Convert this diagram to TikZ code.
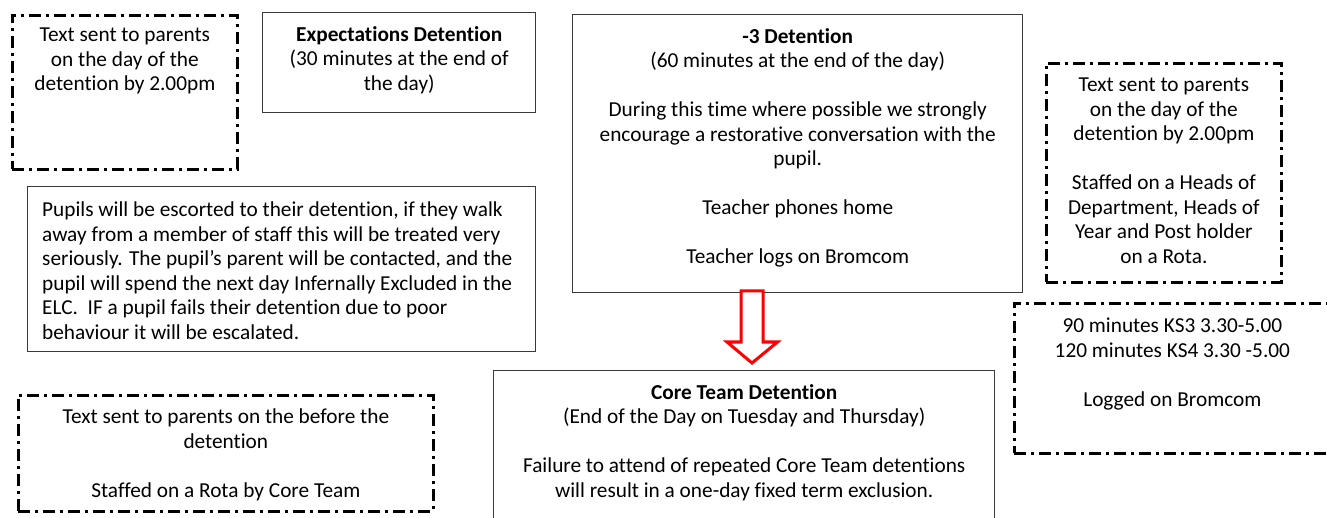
\documentclass[tikz,border=0pt]{standalone}
\usepackage{fontspec}
\setmainfont{Carlito}[Ligatures=NoCommon]
\definecolor{boxgray}{HTML}{3A3A3A}
\definecolor{arrowred}{HTML}{FF0000}
\begin{document}
\begin{tikzpicture}[x=1pt,y=-1pt,
  solidbox/.style={draw=boxgray,line width=1.4pt,anchor=north west,inner sep=0pt},
  dashbox/.style={draw=black,line width=2.7pt,dash pattern=on 12pt off 5pt on 3pt off 5pt,anchor=north west,inner sep=0pt},
  txt/.style={anchor=north,align=center,inner sep=0pt,font=\fontsize{21.3}{24.5}\selectfont},
  ltxt/.style={anchor=north west,align=left,inner sep=0pt,font=\fontsize{21.3}{24.5}\selectfont},
  hollowarrow/.style={draw=arrowred,line width=3pt,fill=white,line join=miter}
]
\useasboundingbox (0,0) rectangle (1327,518);
\clip (0,0) rectangle (1327,518);

% frames
\node[dashbox,minimum width=225pt,minimum height=154pt] (smsA) at (11,14) {};
\node[solidbox,minimum width=273pt,minimum height=100pt] (expect) at (262,12) {};
\node[solidbox,minimum width=450pt,minimum height=278pt] (minus3) at (572,14) {};
\node[dashbox,minimum width=235pt,minimum height=219pt] (smsD) at (1045,62) {};
\node[solidbox,minimum width=508pt,minimum height=165pt] (escort) at (27,186) {};
\node[dashbox,minimum width=316pt,minimum height=150pt] (kstimes) at (1013,302) {};
\node[dashbox,minimum width=415pt,minimum height=116pt] (smsG) at (17,394) {};
\node[solidbox,minimum width=501pt,minimum height=170pt] (core) at (493,370) {};

% texts
\node[txt] (smsAt) at ([yshift=-14pt]smsA.north) {Text sent to parents\\on the day of the\\detention by 2.00pm};
\node[txt] (expectt) at ([yshift=-14pt]expect.north) {\textbf{Expectations Detention}\\(30 minutes at the end of\\the day)};
\node[txt] (minus3t) at ([yshift=-14pt]minus3.north) {\textbf{-3 Detention}\\(60 minutes at the end of the day)\\[24.5pt]During this time where possible we strongly\\encourage a restorative conversation with the\\pupil.\\[24.5pt]Teacher phones home\\[24.5pt]Teacher logs on Bromcom};
\node[txt] (smsDt) at ([yshift=-16pt]smsD.north) {Text sent to parents\\on the day of the\\detention by 2.00pm\\[24.5pt]Staffed on a Heads of\\Department, Heads of\\Year and Post holder\\on a Rota.};
\node[ltxt] (escortt) at ([xshift=15pt,yshift=-16pt]escort.north west) {Pupils will be escorted to their detention, if they walk\\away from a member of staff this will be treated very\\seriously. The pupil's parent will be contacted, and the\\pupil will spend the next day Infernally Excluded in the\\ELC.\ \ IF a pupil fails their detention due to poor\\behaviour it will be escalated.};
\node[txt] (kstimest) at ([yshift=-16pt]kstimes.north) {90 minutes KS3 3.30-5.00\\120 minutes KS4 3.30 -5.00\\[24.5pt]Logged on Bromcom};
\node[txt] (smsGt) at ([yshift=-15pt]smsG.north) {Text sent to parents on the before the\\detention\\[24.5pt]Staffed on a Rota by Core Team};
\node[txt] (coret) at ([yshift=-14pt]core.north) {\textbf{Core Team Detention}\\(End of the Day on Tuesday and Thursday)\\[24.5pt]Failure to attend of repeated Core Team detentions\\will result in a one-day fixed term exclusion.};

% escalation arrow from the -3 detention down to the core team detention
\coordinate (arrtop) at (752,291);
\coordinate (arrtip) at (752,363);
\draw[hollowarrow] (arrtop) ++(-11,0) -- ++(0,51) -- ++(-14,0) -- (arrtip) -- ++(25.5,-21) -- ++(-14.5,0) -- ++(0,-51) -- cycle;
\end{tikzpicture}
\end{document}
